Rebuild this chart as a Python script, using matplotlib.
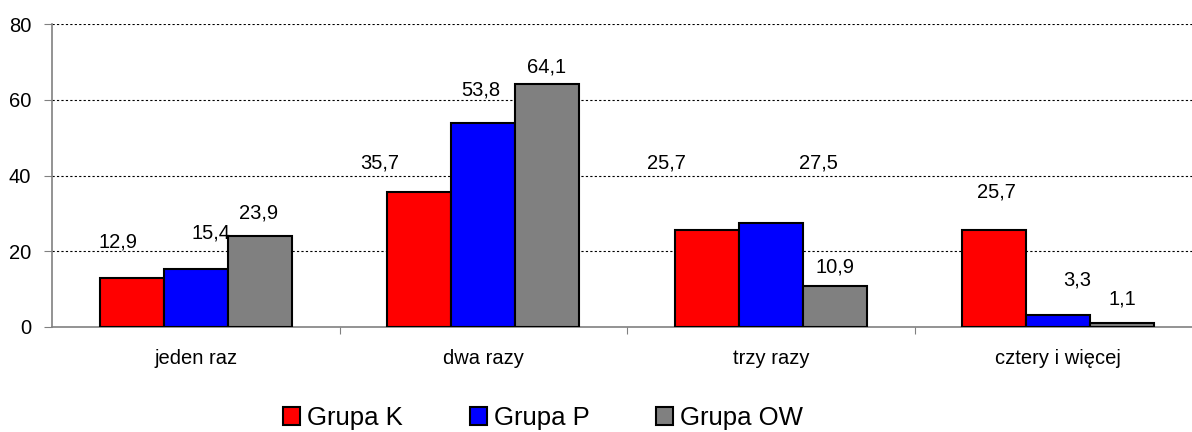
import numpy as np
import matplotlib.pyplot as plt
from matplotlib.patches import Patch

plt.rcParams['font.family'] = ['Liberation Sans', 'DejaVu Sans']

categories = ["jeden raz", "dwa razy", "trzy razy", "cztery i więcej"]
groups = ["Grupa K", "Grupa P", "Grupa OW"]
grupa_k = [12.9, 35.7, 25.7, 25.7]
grupa_p = [15.4, 53.8, 27.5, 3.3]
grupa_ow = [23.9, 64.1, 10.9, 1.1]
colors = ["#ff0000", "#0000ff", "#808080"]

# label offsets in pixels (dx, dy above bar top), Excel-like placement
label_offsets = [
	[(-14, 36), (-40, 29), (-40, 67), (2, 38)],
	[(15, 36), (-2, 33), (48, 60), (19, 35)],
	[(-1, 23), (-1, 17), (0, 19), (0, 24)],
]

fig = plt.figure(figsize=(11.92, 4.32), dpi=100)
ax = fig.add_axes([52 / 1192, 105 / 432, 1150 / 1192, 303 / 432])

x = np.arange(len(categories)) + 0.5
width = 64 / 287.5
series = [grupa_k, grupa_p, grupa_ow]
for k, (vals, col) in enumerate(zip(series, colors)):
	pos = x + (k - 1) * width
	ax.bar(pos, vals, width=width, color=col, edgecolor="black", linewidth=1.5, zorder=3)
	for i, v in enumerate(vals):
		dx, dy = label_offsets[k][i]
		ax.annotate(f"{v:.1f}".replace(".", ","), (pos[i], v), xytext=(dx, dy),
					textcoords="offset pixels", ha="center", va="center", fontsize=14.5)

ax.set_xlim(0, 4)
ax.set_ylim(0, 80)
ax.set_yticks([0, 20, 40, 60, 80])
ax.set_yticklabels(["0", "20", "40", "60", "80"], fontsize=14.5)
ax.set_xticks([1, 2, 3])
ax.set_xticklabels([])
ax.set_xticks(x, minor=True)
ax.set_xticklabels(categories, minor=True, fontsize=14.5)
ax.tick_params(axis="x", which="minor", length=0, pad=16)
ax.tick_params(axis="x", which="major", length=5, color="gray", direction="out")
ax.tick_params(axis="y", length=6, color="gray", pad=9)

for yv in [20, 40, 60, 80]:
	ax.axhline(yv, color="black", linewidth=0.8, linestyle=(0, (2, 2)), zorder=1)

for s in ["top", "right"]:
	ax.spines[s].set_visible(False)
for s in ["left", "bottom"]:
	ax.spines[s].set_color("gray")
	ax.spines[s].set_linewidth(1.2)

handles = [Patch(facecolor=c, edgecolor="black", linewidth=1.5) for c in colors]
fig.legend(handles, groups, loc="center", bbox_to_anchor=(543 / 1192, 1 - 418 / 432), ncol=3,
		   frameon=False, fontsize=18.5, handlelength=0.66, handleheight=0.66,
		   handletextpad=0.27, columnspacing=2.6, borderpad=0)

fig.savefig("out.png", dpi=100)
